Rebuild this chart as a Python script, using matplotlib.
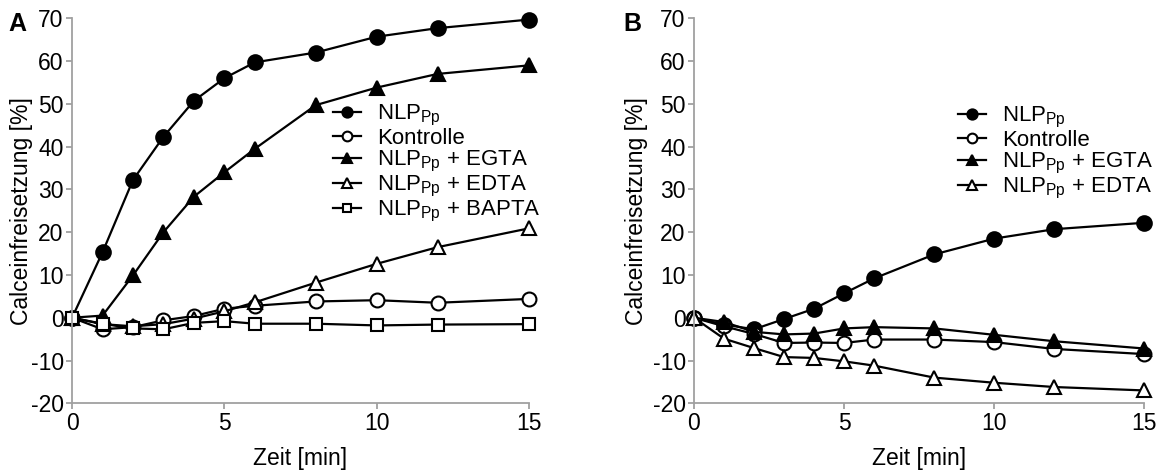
import matplotlib
matplotlib.use('Agg')
import matplotlib.pyplot as plt

plt.rcParams['font.family'] = ['Liberation Sans', 'DejaVu Sans']
plt.rcParams['mathtext.fontset'] = 'custom'
plt.rcParams['mathtext.rm'] = 'Liberation Sans'
plt.rcParams['axes.unicode_minus'] = False
plt.rcParams['font.size'] = 16.5

# sampling times (min)
zeit = [0, 1, 2, 3, 4, 5, 6, 8, 10, 12, 15]

# panel A: calcein release [%]
a_nlp = [0, 15.3, 32.2, 42.3, 50.7, 56.0, 59.7, 62.0, 65.7, 67.7, 69.7]
a_kontrolle = [0, -2.7, -2.2, -0.6, 0.4, 2.1, 2.8, 3.8, 4.1, 3.5, 4.4]
a_egta = [0, 0.5, 9.9, 20.0, 28.3, 34.0, 39.5, 49.7, 53.8, 57.0, 59.0]
a_edta = [0, -1.5, -2.0, -1.5, -0.2, 1.5, 3.6, 8.2, 12.6, 16.5, 20.9]
a_bapta = [0, -1.4, -2.5, -2.7, -1.2, -0.8, -1.4, -1.4, -1.8, -1.6, -1.5]

# panel B
b_nlp = [0, -1.6, -2.7, -0.3, 2.1, 5.7, 9.2, 14.8, 18.5, 20.7, 22.2]
b_kontrolle = [0, -2.0, -3.8, -5.9, -5.8, -5.9, -5.1, -5.1, -5.7, -7.3, -8.5]
b_egta = [0, -1.0, -3.3, -3.9, -3.7, -2.5, -2.2, -2.5, -4.0, -5.5, -7.2]
b_edta = [0, -4.9, -7.1, -9.2, -9.4, -10.2, -11.2, -14.0, -15.2, -16.2, -17.0]

NLP = r'NLP$_\mathregular{Pp}$'
lab_nlp = NLP
lab_kon = 'Kontrolle'
lab_egta = NLP + ' + EGTA'
lab_edta = NLP + ' + EDTA'
lab_bapta = NLP + ' + BAPTA'

axcol = '#a0a0a0'

def style(ax):
    for s in ['top', 'right']:
        ax.spines[s].set_visible(False)
    for s in ['left', 'bottom']:
        ax.spines[s].set_color(axcol)
        ax.spines[s].set_linewidth(1.3)
    ax.set_xlim(0, 15)
    ax.set_ylim(-20, 70)
    ax.set_xticks([0, 5, 10, 15])
    ax.set_yticks(range(-20, 71, 10))
    ax.tick_params(color=axcol, width=1.3, length=4, labelsize=16.5, pad=2)
    ax.set_xlabel('Zeit [min]', labelpad=9)
    ax.set_ylabel('Calceinfreisetzung [%]')

def series(ax, y, marker, filled, label, ms):
    ax.plot(zeit, y, color='black', lw=1.6, marker=marker, ms=ms,
            mfc='black' if filled else 'white', mec='black', mew=1.5,
            label=label, clip_on=False)

fig = plt.figure(figsize=(11.64, 4.73), dpi=100)
axA = fig.add_axes([0.0619, 0.1474, 0.3926, 0.8139])
axB = fig.add_axes([0.5962, 0.1474, 0.3870, 0.8139])

series(axA, a_nlp, 'o', True, lab_nlp, 10.5)
series(axA, a_kontrolle, 'o', False, lab_kon, 10)
series(axA, a_egta, '^', True, lab_egta, 10.5)
series(axA, a_edta, '^', False, lab_edta, 10.5)
series(axA, a_bapta, 's', False, lab_bapta, 9)

series(axB, b_nlp, 'o', True, lab_nlp, 10.5)
series(axB, b_kontrolle, 'o', False, lab_kon, 10)
series(axB, b_egta, '^', True, lab_egta, 10.5)
series(axB, b_edta, '^', False, lab_edta, 10.5)

for ax in (axA, axB):
    style(ax)

axA.yaxis.set_label_coords(-0.085, 0.5)
axB.yaxis.set_label_coords(-0.103, 0.5)

legkw = dict(frameon=False, handlelength=1.3, handletextpad=0.7,
             labelspacing=0.0, borderpad=0, borderaxespad=0, fontsize=16,
             markerscale=0.7)
axA.legend(loc='upper left', bbox_to_anchor=(0.57, 0.78), **legkw)
axB.legend(loc='upper left', bbox_to_anchor=(0.585, 0.775), **legkw)

fig.text(0.0146, 0.950, 'A', fontsize=18, fontweight='bold', ha='center', va='center')
fig.text(0.543, 0.950, 'B', fontsize=18, fontweight='bold', ha='center', va='center')

fig.savefig('out.png', dpi=100)
